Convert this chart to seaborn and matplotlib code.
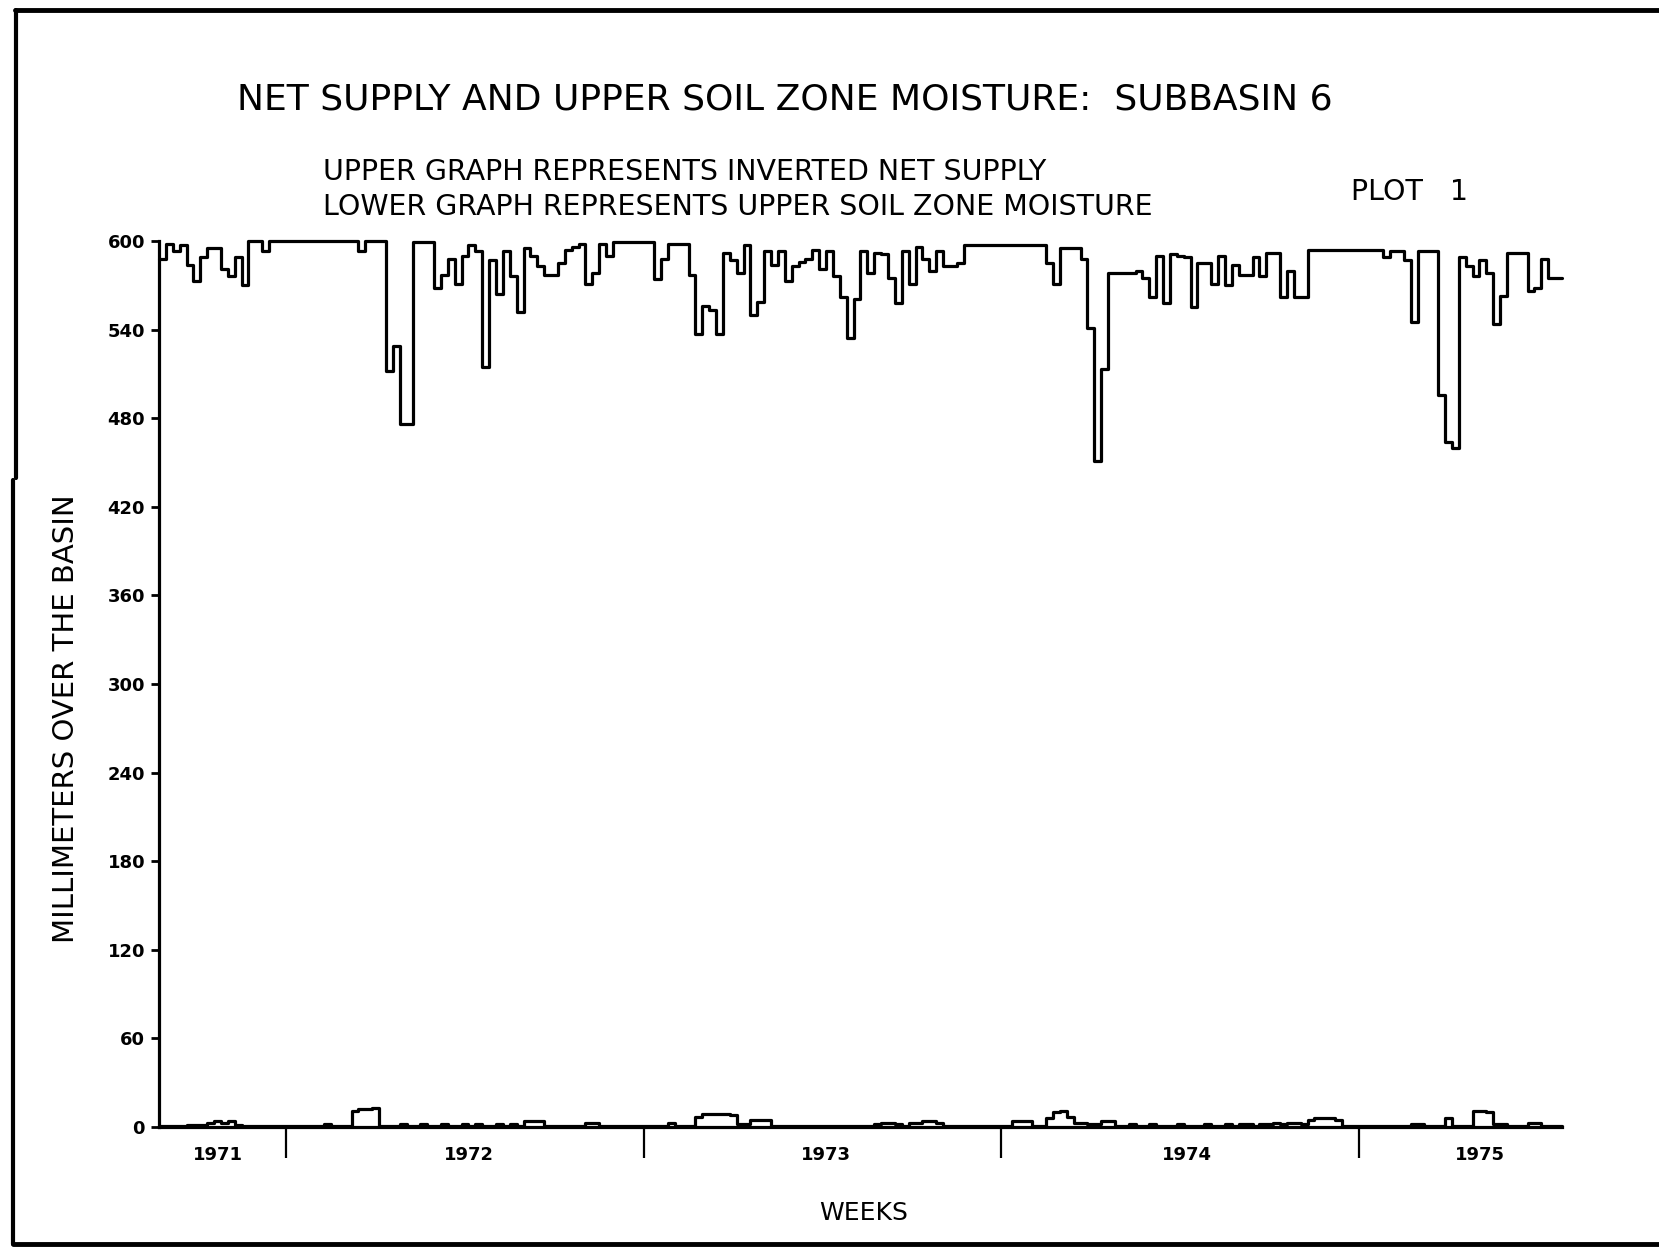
import matplotlib.pyplot as plt
import numpy as np
import pandas as pd
import seaborn as sns
from matplotlib.lines import Line2D

# weekly net supply (mm); drawn inverted from 600
net_supply = [
    # first block of weeks
    12, 2, 7, 3, 16, 27, 11, 5, 5, 19, 24, 11, 30, 0, 0, 7,
    0, 0, 0, 0, 0, 0, 0, 0, 0, 0, 0, 0, 0,
    7, 0, 0, 0, 88, 71, 124, 124, 1, 1, 1,
    32, 23, 12, 29, 10, 3, 7, 85, 13, 36, 7, 24,
    # second block
    48, 5, 10, 17, 23, 23, 15, 6, 4, 2, 29, 22, 2, 10,
    1, 1, 1, 1, 1, 1, 26, 12, 2, 2, 2,
    23, 63, 44, 47, 63, 8, 13, 22, 3, 50, 41, 7, 16, 7, 27, 17,
    14, 12, 6, 19, 7, 24, 38, 66, 39, 7,
    # third block
    22, 8, 9, 25, 42, 7, 29, 4, 12, 20, 7, 17, 17, 15,
    3, 3, 3, 3, 3, 3, 3, 3, 3, 3, 3, 3,
    15, 29, 5, 5, 5, 12, 59, 149, 87, 22, 22, 22,
    22, 20, 25, 38, 10, 42, 9, 10, 11, 45, 15, 15, 29,
    # fourth block
    10, 30, 16, 23, 23, 11, 24, 8, 8, 38, 20, 38, 38,
    6, 6, 6, 6, 6, 6, 6, 6, 6, 6, 6,
    11, 7, 7, 13, 55, 7, 7, 7, 104, 136, 140,
    11, 17, 24, 13, 22, 56, 37, 8, 8, 8, 34, 32, 12, 25, 25,
]

# weekly upper soil zone moisture (mm)
soil_moisture = [
    1, 1, 1, 1, 1.5, 1.5, 1.5, 3, 4, 3, 4,
    1.5, 1, 1, 0.5, 0.5, 0.5, 0.5, 0.5, 0.5, 0.5, 0.5, 0.5, 0.5,
    2, 0.5, 0.5, 0.5, 11, 12, 12, 13,
    1, 1, 1, 2, 1, 1, 2, 1, 1, 2, 1, 1, 2, 1, 2, 1, 1, 2, 1, 2, 1,
    4, 4, 4, 1, 1, 1, 1, 0.5, 0.5, 3, 3,
    0.5, 0.5, 0.5, 0.5, 0.5, 0.5, 0.5, 1, 1, 1,
    3, 1, 1, 1, 7, 9, 9, 9, 9, 8, 2, 2, 5, 5, 5,
    1, 1, 1, 1, 1, 0.5, 0.5, 0.5, 0.5, 0.5, 0.5, 0.5, 1, 1, 1,
    2, 3, 3, 2, 1, 3, 3, 4, 4, 3,
    1, 1, 0.5, 0.5, 0.5, 0.5, 0.5, 1, 1, 1,
    4, 4, 4, 1, 1, 6, 10, 11, 7, 3, 3, 2, 2, 4, 4,
    1, 1, 2, 1, 1, 2, 1, 1, 1, 2, 1, 1, 1, 2, 1, 1, 2, 1, 2, 2, 1, 2, 2, 3, 2, 3, 3, 2,
    5, 6, 6, 6, 5,
    1, 1, 1, 0.5, 0.5, 0.5, 0.5, 1, 1, 1, 2, 2, 1, 1, 1,
    6, 1, 1, 1, 11, 11, 10, 2, 2, 1, 1, 1, 3, 3, 1, 1, 1,
]

year_labels = ['1971', '1972', '1973', '1974', '1975']
year_label_weeks = [8.5, 45, 97, 149.5, 192]
year_start_weeks = [18.5, 70.5, 122.5, 174.5]
y_ticks = [0, 60, 120, 180, 240, 300, 360, 420, 480, 540, 600]

sns.set_style('white')
plt.rcParams['font.family'] = ['DejaVu Sans']
plt.rcParams['text.color'] = 'black'

n = len(net_supply)
df = pd.DataFrame({
    'week': np.arange(n + 1),
    'inverted': 600 - np.append(net_supply, net_supply[-1]),
    'moisture': np.append(soil_moisture, soil_moisture[-1]),
})

W, H = 1659, 1248
fig = plt.figure(figsize=(W / 100, H / 100), dpi=100)
ax = fig.add_axes([159 / W, 1 - 1127 / H, (1562 - 159) / W, (1127 - 241) / H])

sns.lineplot(data=df, x='week', y='inverted', drawstyle='steps-post', estimator=None,
             color='black', lw=2.3, clip_on=False, ax=ax)
sns.lineplot(data=df, x='week', y='moisture', drawstyle='steps-post', estimator=None,
             color='black', lw=2.3, clip_on=False, ax=ax)

ax.set_xlim(0, n)
ax.set_ylim(0, 600)
ax.set_xlabel('')
ax.set_ylabel('')
for s in ['top', 'right']:
    ax.spines[s].set_visible(False)
for s in ['left', 'bottom']:
    ax.spines[s].set_linewidth(2.3)
    ax.spines[s].set_color('black')

ax.set_yticks(y_ticks)
ax.set_yticklabels([str(v) for v in y_ticks], fontsize=13, fontweight='bold')
ax.tick_params(axis='y', left=True, direction='out', length=6, width=2, pad=4, colors='black')

ax.set_xticks(year_label_weeks)
ax.set_xticklabels(year_labels, fontsize=13, fontweight='bold')
ax.set_xticks(year_start_weeks, minor=True)
ax.tick_params(axis='x', which='major', bottom=True, length=0, pad=14, colors='black')
ax.tick_params(axis='x', which='minor', bottom=True, direction='out', length=22,
               width=1.6, colors='black')

# titles and labels
fig.text(785 / W, 1 - 100 / H, 'NET SUPPLY AND UPPER SOIL ZONE MOISTURE:  SUBBASIN 6',
         ha='center', va='center', fontsize=26, color='black')
fig.text(323 / W, 1 - 172 / H, 'UPPER GRAPH REPRESENTS INVERTED NET SUPPLY',
         ha='left', va='center', fontsize=20.5, color='black')
fig.text(323 / W, 1 - 207 / H, 'LOWER GRAPH REPRESENTS UPPER SOIL ZONE MOISTURE',
         ha='left', va='center', fontsize=20.5, color='black')
fig.text(1351 / W, 1 - 192 / H, 'PLOT   1', ha='left', va='center', fontsize=20.5,
         color='black')
fig.text(66 / W, 1 - 719 / H, 'MILLIMETERS OVER THE BASIN', rotation=90,
         ha='center', va='center', fontsize=21, color='black')
fig.text(864 / W, 1 - 1213 / H, 'WEEKS', ha='center', va='center', fontsize=18,
         color='black')

# scanned page border
fig.add_artist(Line2D([15 / W, 1], [1 - 10 / H] * 2, lw=3.5, color='black'))
fig.add_artist(Line2D([16 / W] * 2, [1 - 10 / H, 1 - 478 / H], lw=3, color='black'))
fig.add_artist(Line2D([13 / W] * 2, [1 - 480 / H, 1 - 1244 / H], lw=3, color='black'))
fig.add_artist(Line2D([13 / W, 1], [1 - 1244 / H] * 2, lw=3.5, color='black'))

fig.savefig('out.png', dpi=100, facecolor='white')
